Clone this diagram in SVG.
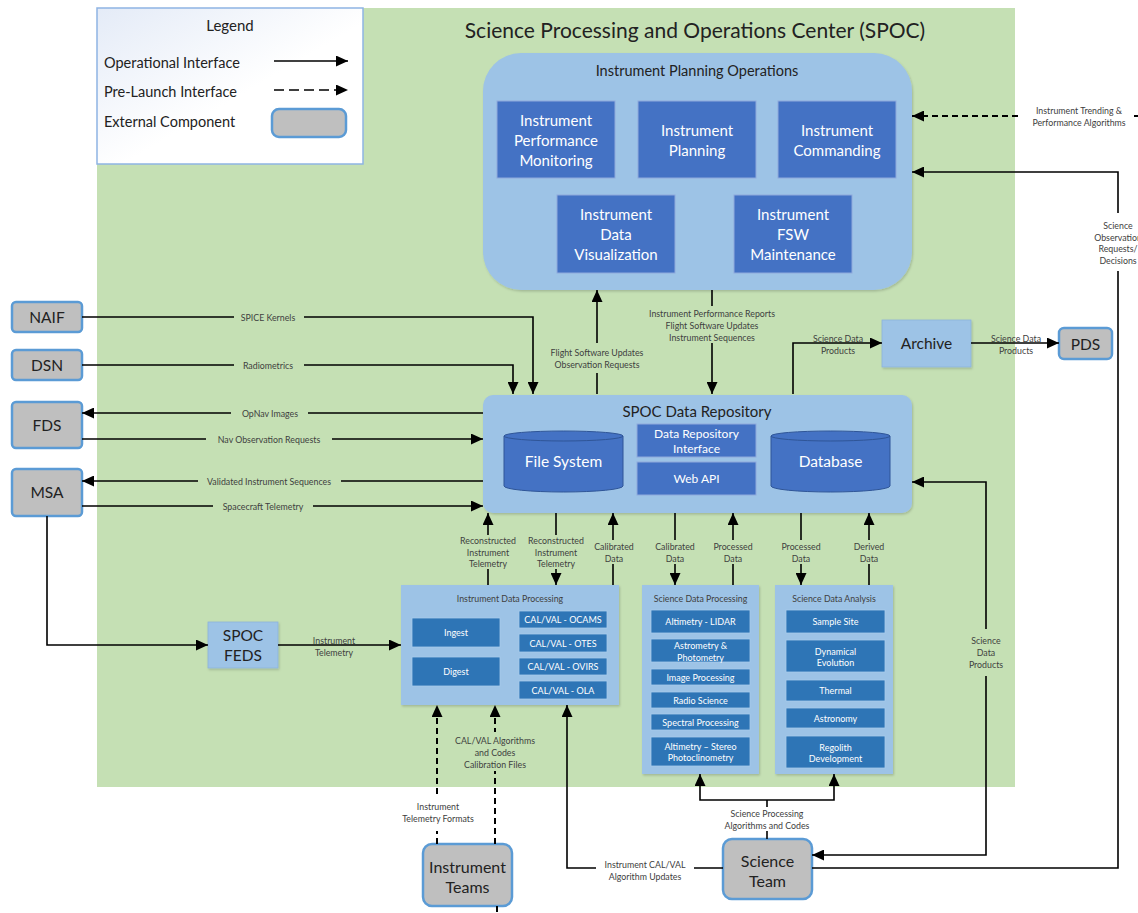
<svg xmlns="http://www.w3.org/2000/svg" width="1138" height="913" viewBox="0 0 1138 913">
<defs>
  <marker id="arr" viewBox="0 0 12 11" refX="12" refY="5.5" markerWidth="12" markerHeight="11" markerUnits="userSpaceOnUse" orient="auto-start-reverse">
    <path d="M0,0 L12,5.5 L0,11 z" fill="#000"/>
  </marker>
  <linearGradient id="legendFill" x1="0" y1="0" x2="1" y2="1">
    <stop offset="0" stop-color="#E4EBF7"/>
    <stop offset="0.55" stop-color="#FFFFFF"/>
  </linearGradient>
  <filter id="sh" x="-5%" y="-5%" width="112%" height="115%">
    <feDropShadow dx="1" dy="1.5" stdDeviation="1.2" flood-color="#000" flood-opacity="0.18"/>
  </filter>
</defs>
<style>
  text{font-family:Lato,"Open Sans","Liberation Sans",sans-serif;dominant-baseline:central}
  .lbl{font-size:8.8px;fill:#404040;text-anchor:middle}
  .ln{fill:none;stroke:#000;stroke-width:1.6}
  .dash{stroke-dasharray:6 4;stroke-width:2}
  .ext{fill:#BFBFBF;stroke:#5B9BD5;stroke-width:2.5}
  .lb{fill:#9DC3E6}
  .db{fill:#4472C4;stroke:#8FAADC;stroke-width:1}
  .mb{fill:#2E75B6;stroke:#A9CBEA;stroke-width:0.8}
  .wt{fill:#FFFFFF;text-anchor:middle}
  .bk{fill:#222222;text-anchor:middle}
  .cyl{fill:#4472C4;stroke:#2F5597;stroke-width:1}
  .gbg{fill:#C5E0B4}
  .wbg{fill:#FFFFFF}
</style>

<!-- SPOC boundary -->
<g id="spoc">
  <rect x="97" y="8" width="918" height="779" fill="#C5E0B4"/>
  <text class="bk" x="695" y="29" font-size="21">Science Processing and Operations Center (SPOC)</text>
</g>

<!-- Legend -->
<g id="legend">
  <rect x="97" y="8" width="266" height="156" fill="url(#legendFill)" stroke="#8EB4E3" stroke-width="1.5"/>
  <text class="bk" x="230" y="25" font-size="15">Legend</text>
  <text x="104" y="62" font-size="14.5" fill="#222">Operational Interface</text>
  <text x="104" y="91" font-size="14.5" fill="#222">Pre-Launch Interface</text>
  <text x="104" y="121" font-size="14.5" fill="#222">External Component</text>
  <path class="ln" d="M274,61 H348" marker-end="url(#arr)"/>
  <path class="ln" d="M274,90 H348" stroke-dasharray="10 5" marker-end="url(#arr)"/>
  <rect class="ext" x="272" y="109" width="74" height="28" rx="7"/>
</g>

<!-- Instrument Planning Operations -->
<g id="ipo">
  <rect class="lb" x="483" y="53" width="429" height="237" rx="38" filter="url(#sh)"/>
  <text class="bk" x="697" y="70" font-size="14.5">Instrument Planning Operations</text>
</g>
<g id="ipo-perf">
  <rect class="db" x="497" y="101" width="118" height="77"/>
  <text class="wt" font-size="15" y="120"><tspan x="556">Instrument</tspan><tspan x="556" dy="20">Performance</tspan><tspan x="556" dy="20">Monitoring</tspan></text>
</g>
<g id="ipo-plan">
  <rect class="db" x="638" y="101" width="118" height="77"/>
  <text class="wt" font-size="15" y="130"><tspan x="697">Instrument</tspan><tspan x="697" dy="20">Planning</tspan></text>
</g>
<g id="ipo-cmd">
  <rect class="db" x="778" y="101" width="118" height="77"/>
  <text class="wt" font-size="15" y="130"><tspan x="837">Instrument</tspan><tspan x="837" dy="20">Commanding</tspan></text>
</g>
<g id="ipo-vis">
  <rect class="db" x="557" y="195" width="118" height="78"/>
  <text class="wt" font-size="15" y="214"><tspan x="616">Instrument</tspan><tspan x="616" dy="20">Data</tspan><tspan x="616" dy="20">Visualization</tspan></text>
</g>
<g id="ipo-fsw">
  <rect class="db" x="734" y="195" width="118" height="78"/>
  <text class="wt" font-size="15" y="214"><tspan x="793">Instrument</tspan><tspan x="793" dy="20">FSW</tspan><tspan x="793" dy="20">Maintenance</tspan></text>
</g>

<!-- SPOC Data Repository -->
<g id="repo">
  <rect class="lb" x="483" y="395" width="429" height="118" rx="10" filter="url(#sh)"/>
  <text class="bk" x="697" y="411" font-size="15">SPOC Data Repository</text>
</g>
<g id="repo-fs">
  <path class="cyl" d="M504,436 V486 A59.5,6 0 0 0 623,486 V436"/>
  <ellipse class="cyl" cx="563.5" cy="436" rx="59.5" ry="5"/>
  <text class="wt" x="563.5" y="461" font-size="15.5">File System</text>
</g>
<g id="repo-dri">
  <rect class="db" x="637" y="424" width="119" height="33" stroke="#2F5597"/>
  <text class="wt" font-size="12" y="433"><tspan x="696.5">Data Repository</tspan><tspan x="696.5" dy="15">Interface</tspan></text>
</g>
<g id="repo-api">
  <rect class="db" x="637" y="462" width="119" height="33" stroke="#2F5597"/>
  <text class="wt" x="696.5" y="478" font-size="12">Web API</text>
</g>
<g id="repo-db">
  <path class="cyl" d="M771,436 V486 A59.5,6 0 0 0 890,486 V436"/>
  <ellipse class="cyl" cx="830.5" cy="436" rx="59.5" ry="5"/>
  <text class="wt" x="830.5" y="461" font-size="15.5">Database</text>
</g>

<!-- Archive and PDS -->
<g id="archive">
  <rect class="lb" x="882" y="320" width="89" height="47" stroke="#8DB3D9" stroke-width="0.8" filter="url(#sh)"/>
  <text class="bk" x="926.5" y="343" font-size="15.5">Archive</text>
</g>
<g id="pds">
  <rect class="ext" x="1059" y="328" width="53" height="31" rx="5"/>
  <text class="bk" x="1085.5" y="344" font-size="15.5">PDS</text>
</g>

<!-- External interfaces on the left -->
<g id="naif">
  <rect class="ext" x="12" y="302" width="70" height="30" rx="4"/>
  <text class="bk" x="47" y="317" font-size="15.5">NAIF</text>
</g>
<g id="dsn">
  <rect class="ext" x="12" y="350" width="70" height="30" rx="4"/>
  <text class="bk" x="47" y="365" font-size="15.5">DSN</text>
</g>
<g id="fds">
  <rect class="ext" x="12" y="402" width="70" height="46" rx="4"/>
  <text class="bk" x="47" y="425" font-size="15.5">FDS</text>
</g>
<g id="msa">
  <rect class="ext" x="12" y="469" width="70" height="47" rx="4"/>
  <text class="bk" x="47" y="492" font-size="15.5">MSA</text>
</g>

<!-- SPOC FEDS -->
<g id="feds">
  <rect class="lb" x="208" y="622" width="70" height="46" stroke="#8DB3D9" stroke-width="0.8" filter="url(#sh)"/>
  <text class="bk" font-size="15.5" y="635"><tspan x="243">SPOC</tspan><tspan x="243" dy="20">FEDS</tspan></text>
</g>

<!-- Instrument Data Processing -->
<g id="idp">
  <rect class="lb" x="401" y="585" width="218" height="120" filter="url(#sh)"/>
  <text class="lbl" x="510" y="598" font-size="9" fill="#333">Instrument Data Processing</text>
  <rect class="mb" x="412" y="618" width="88" height="29"/>
  <text class="wt" x="456" y="632.5" font-size="9">Ingest</text>
  <rect class="mb" x="412" y="657" width="88" height="29"/>
  <text class="wt" x="456" y="671.5" font-size="9">Digest</text>
  <rect class="mb" x="519" y="611" width="88" height="17"/>
  <text class="wt" x="563" y="619.5" font-size="9">CAL/VAL - OCAMS</text>
  <rect class="mb" x="519" y="634" width="88" height="18"/>
  <text class="wt" x="563" y="643" font-size="9">CAL/VAL - OTES</text>
  <rect class="mb" x="519" y="658" width="88" height="17"/>
  <text class="wt" x="563" y="666.5" font-size="9">CAL/VAL - OVIRS</text>
  <rect class="mb" x="519" y="681" width="88" height="18"/>
  <text class="wt" x="563" y="690" font-size="9">CAL/VAL - OLA</text>
</g>

<!-- Science Data Processing -->
<g id="sdp">
  <rect class="lb" x="642" y="585" width="117" height="189" filter="url(#sh)"/>
  <text class="lbl" x="700.5" y="598" font-size="9" fill="#333">Science Data Processing</text>
  <rect class="mb" x="651" y="610" width="99" height="23"/>
  <text class="wt" x="700.5" y="621.5" font-size="9">Altimetry - LIDAR</text>
  <rect class="mb" x="651" y="639" width="99" height="23"/>
  <text class="wt" font-size="9" y="645"><tspan x="700.5">Astrometry &amp;</tspan><tspan x="700.5" dy="11.5">Photometry</tspan></text>
  <rect class="mb" x="651" y="669" width="99" height="16"/>
  <text class="wt" x="700.5" y="677" font-size="9">Image Processing</text>
  <rect class="mb" x="651" y="692" width="99" height="16"/>
  <text class="wt" x="700.5" y="700" font-size="9">Radio Science</text>
  <rect class="mb" x="651" y="714" width="99" height="16"/>
  <text class="wt" x="700.5" y="722" font-size="9">Spectral Processing</text>
  <rect class="mb" x="651" y="737" width="99" height="29"/>
  <text class="wt" font-size="9" y="745.5"><tspan x="700.5">Altimetry – Stereo</tspan><tspan x="700.5" dy="11.5">Photoclinometry</tspan></text>
</g>

<!-- Science Data Analysis -->
<g id="sda">
  <rect class="lb" x="775" y="585" width="118" height="189" filter="url(#sh)"/>
  <text class="lbl" x="834" y="598" font-size="9" fill="#333">Science Data Analysis</text>
  <rect class="mb" x="786" y="610" width="99" height="23"/>
  <text class="wt" x="835.5" y="621.5" font-size="9">Sample Site</text>
  <rect class="mb" x="786" y="640" width="99" height="32"/>
  <text class="wt" font-size="9" y="650.5"><tspan x="835.5">Dynamical</tspan><tspan x="835.5" dy="11.5">Evolution</tspan></text>
  <rect class="mb" x="786" y="680" width="99" height="21"/>
  <text class="wt" x="835.5" y="690.5" font-size="9">Thermal</text>
  <rect class="mb" x="786" y="708" width="99" height="20"/>
  <text class="wt" x="835.5" y="718" font-size="9">Astronomy</text>
  <rect class="mb" x="786" y="736" width="99" height="32"/>
  <text class="wt" font-size="9" y="746.5"><tspan x="835.5">Regolith</tspan><tspan x="835.5" dy="11.5">Development</tspan></text>
</g>

<!-- Teams -->
<g id="instrument-teams">
  <rect class="ext" x="423" y="844" width="89" height="62" rx="9"/>
  <text class="bk" font-size="16" y="866"><tspan x="467.5">Instrument</tspan><tspan x="467.5" dy="20">Teams</tspan></text>
</g>
<g id="science-team">
  <rect class="ext" x="723" y="839" width="89" height="60" rx="9"/>
  <text class="bk" font-size="16" y="860"><tspan x="767.5">Science</tspan><tspan x="767.5" dy="20">Team</tspan></text>
</g>

<!-- Interfaces -->
<g id="connectors">
  <!-- external navigation / spacecraft interfaces -->
  <path class="ln" d="M82,317 H533 V394" marker-end="url(#arr)"/>
  <path class="ln" d="M82,365 H513 V394" marker-end="url(#arr)"/>
  <path class="ln" d="M483,413 H82" marker-end="url(#arr)"/>
  <path class="ln" d="M82,439 H483" marker-end="url(#arr)"/>
  <path class="ln" d="M483,481 H82" marker-end="url(#arr)"/>
  <path class="ln" d="M82,506 H483" marker-end="url(#arr)"/>
  <path class="ln" d="M47,516 V645 H208" marker-end="url(#arr)"/>
  <path class="ln" d="M278,645 H401" marker-end="url(#arr)"/>

  <!-- planning <-> repository -->
  <path class="ln" d="M597,394 V290" marker-end="url(#arr)"/>
  <path class="ln" d="M712,290 V394" marker-end="url(#arr)"/>
  <path class="ln" d="M793,394 V343 H882" marker-end="url(#arr)"/>
  <path class="ln" d="M971,343 H1059" marker-end="url(#arr)"/>

  <!-- right side loops -->
  <path class="ln dash" d="M1138,116 H912" marker-end="url(#arr)"/>
  <path class="ln" d="M812,868 H1118 V172 H912" marker-end="url(#arr)"/>
  <path class="ln" d="M912,482 H986 V855 H812" marker-start="url(#arr)" marker-end="url(#arr)"/>

  <!-- repository <-> processing -->
  <path class="ln" d="M488,585 V513" marker-end="url(#arr)"/>
  <path class="ln" d="M556,513 V585" marker-end="url(#arr)"/>
  <path class="ln" d="M613,585 V513" marker-end="url(#arr)"/>
  <path class="ln" d="M675,513 V585" marker-end="url(#arr)"/>
  <path class="ln" d="M733,585 V513" marker-end="url(#arr)"/>
  <path class="ln" d="M801,513 V585" marker-end="url(#arr)"/>
  <path class="ln" d="M869,585 V513" marker-end="url(#arr)"/>

  <!-- teams -->
  <path class="ln dash" d="M437,844 V705" marker-end="url(#arr)"/>
  <path class="ln dash" d="M495,844 V705" marker-end="url(#arr)"/>
  <path class="ln dash" d="M497,906 V913"/>
  <path class="ln" d="M723,868 H567 V705" marker-end="url(#arr)"/>
  <path class="ln" d="M767,839 V800"/>
  <path class="ln" d="M767,800 H700 V774" marker-end="url(#arr)"/>
  <path class="ln" d="M767,800 H834 V774" marker-end="url(#arr)"/>

  <!-- labels -->
  <rect class="gbg" x="234" y="311" width="70" height="12"/>
  <text class="lbl" x="268" y="317">SPICE Kernels</text>
  <rect class="gbg" x="234" y="359" width="70" height="12"/>
  <text class="lbl" x="268" y="365">Radiometrics</text>
  <rect class="gbg" x="231" y="407" width="77" height="12"/>
  <text class="lbl" x="270" y="413">OpNav Images</text>
  <rect class="gbg" x="206" y="433" width="126" height="12"/>
  <text class="lbl" x="269" y="439">Nav Observation Requests</text>
  <rect class="gbg" x="198" y="475" width="143" height="12"/>
  <text class="lbl" x="269" y="481">Validated Instrument Sequences</text>
  <rect class="gbg" x="213" y="500" width="100" height="12"/>
  <text class="lbl" x="263" y="506">Spacecraft Telemetry</text>
  <text class="lbl" y="640"><tspan x="334">Instrument</tspan><tspan x="334" dy="12">Telemetry</tspan></text>

  <rect class="gbg" x="549" y="343" width="96" height="30"/>
  <text class="lbl" y="352"><tspan x="597">Flight Software Updates</tspan><tspan x="597" dy="12">Observation Requests</tspan></text>
  <rect class="gbg" x="645" y="306" width="134" height="37"/>
  <text class="lbl" y="313"><tspan x="712">Instrument Performance Reports</tspan><tspan x="712" dy="12">Flight Software Updates</tspan><tspan x="712" dy="12">Instrument Sequences</tspan></text>
  <text class="lbl" y="338"><tspan x="838">Science Data</tspan><tspan x="838" dy="12">Products</tspan></text>
  <text class="lbl" y="338"><tspan x="1016">Science Data</tspan><tspan x="1016" dy="12">Products</tspan></text>

  <rect class="wbg" x="1022" y="104" width="112" height="24"/>
  <text class="lbl" y="110"><tspan x="1079">Instrument Trending &amp;</tspan><tspan x="1079" dy="12">Performance Algorithms</tspan></text>
  <rect class="wbg" x="1092" y="213" width="46" height="58"/>
  <text class="lbl" y="225"><tspan x="1118">Science</tspan><tspan x="1118" dy="11.7">Observation</tspan><tspan x="1118" dy="11.7">Requests/</tspan><tspan x="1118" dy="11.7">Decisions</tspan></text>
  <rect class="gbg" x="968" y="629" width="36" height="47"/>
  <text class="lbl" y="640"><tspan x="986">Science</tspan><tspan x="986" dy="12">Data</tspan><tspan x="986" dy="12">Products</tspan></text>

  <rect class="gbg" x="460" y="535" width="57" height="34"/>
  <text class="lbl" y="540"><tspan x="488">Reconstructed</tspan><tspan x="488" dy="11.5">Instrument</tspan><tspan x="488" dy="11.5">Telemetry</tspan></text>
  <rect class="gbg" x="528" y="535" width="57" height="34"/>
  <text class="lbl" y="540"><tspan x="556">Reconstructed</tspan><tspan x="556" dy="11.5">Instrument</tspan><tspan x="556" dy="11.5">Telemetry</tspan></text>
  <rect class="gbg" x="595" y="540" width="38" height="24"/>
  <text class="lbl" y="546"><tspan x="614">Calibrated</tspan><tspan x="614" dy="12">Data</tspan></text>
  <rect class="gbg" x="656" y="540" width="38" height="24"/>
  <text class="lbl" y="546"><tspan x="675">Calibrated</tspan><tspan x="675" dy="12">Data</tspan></text>
  <rect class="gbg" x="714" y="540" width="38" height="24"/>
  <text class="lbl" y="546"><tspan x="733">Processed</tspan><tspan x="733" dy="12">Data</tspan></text>
  <rect class="gbg" x="782" y="540" width="38" height="24"/>
  <text class="lbl" y="546"><tspan x="801">Processed</tspan><tspan x="801" dy="12">Data</tspan></text>
  <rect class="gbg" x="852" y="540" width="34" height="24"/>
  <text class="lbl" y="546"><tspan x="869">Derived</tspan><tspan x="869" dy="12">Data</tspan></text>

  <rect class="gbg" x="457" y="732" width="76" height="39"/>
  <text class="lbl" y="740"><tspan x="495">CAL/VAL Algorithms</tspan><tspan x="495" dy="12">and Codes</tspan><tspan x="495" dy="12">Calibration Files</tspan></text>
  <rect class="wbg" x="402" y="798" width="74" height="33"/>
  <text class="lbl" y="806"><tspan x="438">Instrument</tspan><tspan x="438" dy="12">Telemetry Formats</tspan></text>
  <rect class="wbg" x="596" y="856" width="98" height="27"/>
  <text class="lbl" y="864"><tspan x="645">Instrument CAL/VAL</tspan><tspan x="645" dy="12">Algorithm Updates</tspan></text>
  <rect class="wbg" x="722" y="807" width="90" height="24"/>
  <text class="lbl" y="813"><tspan x="767">Science Processing</tspan><tspan x="767" dy="12">Algorithms and Codes</tspan></text>
</g>
</svg>
